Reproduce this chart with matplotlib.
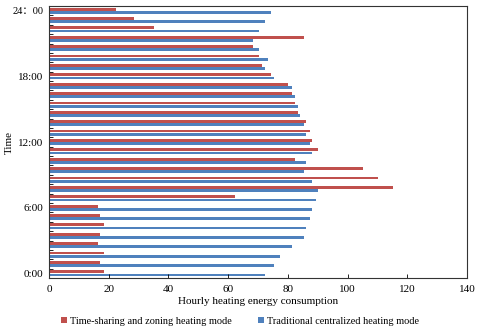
import matplotlib
matplotlib.use("Agg")
import matplotlib.pyplot as plt
import numpy as np

plt.rcParams['font.family'] = ['Liberation Serif', 'Noto Sans CJK SC', 'DejaVu Serif']

# 29 categories, bottom (0:00) to top (24:00)
time_sharing = [18.4, 17.2, 18.4, 16.3, 17.2, 18.4, 17.2, 16.3, 62.2, 115.2,
                110.1, 105.3, 82.3, 90.1, 88.2, 87.3, 86.2, 83.3, 82.3, 81.3,
                80.2, 74.2, 71.3, 70.2, 68.2, 85.4, 35.1, 28.4, 22.3]
traditional = [72.2, 75.2, 77.2, 81.3, 85.3, 86.2, 87.3, 88.2, 89.3, 90.1,
               88.2, 85.3, 86.2, 88.2, 87.3, 86.1, 85.3, 84.2, 83.3, 82.3,
               81.3, 75.2, 72.2, 73.3, 70.2, 68.2, 70.2, 72.2, 74.2]
tick_positions = [0, 7, 14, 21, 28]
tick_labels = ['0:00', '6:00', '12:00', '18:00', '24：00']
x_ticks = [0, 20, 40, 60, 80, 100, 120, 140]

red = '#C0504D'
blue = '#4F81BD'

fig = plt.figure(figsize=(4.8, 3.35), dpi=100)
ax = fig.add_axes([0.102, 0.170, 0.871, 0.812])

y = np.arange(len(time_sharing))
h = 0.3
ax.barh(y + 0.17, time_sharing, height=h, color=red, label='Time-sharing and zoning heating mode')
ax.barh(y - 0.17, traditional, height=h, color=blue, label='Traditional centralized heating mode')

ax.set_xlim(0, 140)
ax.set_ylim(-0.5, len(time_sharing) - 0.5)
ax.set_xticks(x_ticks)
ax.set_yticks(tick_positions)
ax.set_yticklabels(tick_labels, fontsize=8)
ax.get_yticklabels()[-1].set_fontsize(7.5)
ax.set_yticks(np.arange(-0.5, len(time_sharing), 1), minor=True)
ax.tick_params(axis='y', which='major', length=0, pad=4)
ax.tick_params(axis='y', which='minor', length=3, direction='in', width=0.6)
ax.tick_params(axis='x', labelsize=8, direction='in', length=3, width=0.6, pad=5)
for s in ax.spines.values():
    s.set_linewidth(0.8)
    s.set_color('#333333')

ax.set_xlabel('Hourly heating energy consumption', fontsize=8, labelpad=2)
ax.set_ylabel('Time', fontsize=8)
ax.yaxis.set_label_coords(-0.085, 0.5)

leg = fig.legend(loc='lower center', bbox_to_anchor=(0.5, 0.0), ncol=2, frameon=False,
                 fontsize=7.4, handlelength=0.6, handleheight=0.6, handletextpad=0.3,
                 columnspacing=2.6)

fig.savefig('out.png', dpi=100)
